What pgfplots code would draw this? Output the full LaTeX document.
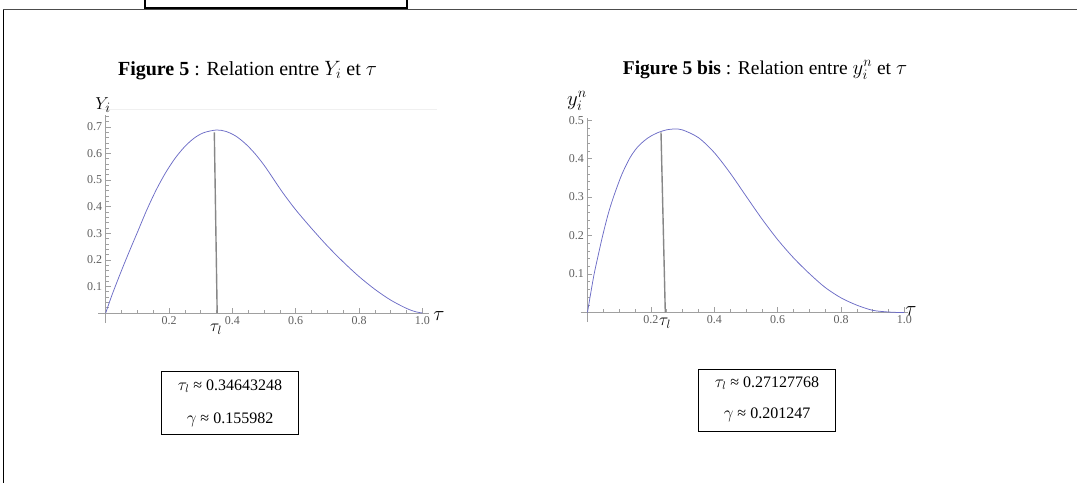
\documentclass[border=0pt]{standalone}
\usepackage{pgfplots}
\pgfplotsset{compat=1.18}
\usepackage{fontspec}
\setmainfont{Liberation Serif}
\definecolor{curve}{RGB}{108,108,198}
\definecolor{vline}{RGB}{135,135,135}
\definecolor{axgray}{RGB}{160,160,160}
\definecolor{ticklab}{RGB}{95,95,95}

\pgfplotsset{
  mmastyle/.style={
    scale only axis,
    anchor=south west,
    axis lines=middle,
    axis line style={draw=axgray, line width=0.7pt, -},
    tick style={draw=axgray, line width=0.5pt},
    tick align=inside,
    major tick length=5pt,
    minor tick length=3pt,
    clip=false,
    ticklabel style={font=\fontsize{12}{12}\selectfont, text=ticklab},
    xtick={0.2,0.4,0.6,0.8,1.0},
    xticklabels={0.2,0.4,0.6,0.8,1.0},
    minor xtick={0,0.05,...,1.0},
  }
}

\begin{document}
\begin{tikzpicture}[x=1pt,y=1pt]
% page frame
\draw[gray!60!black, line width=1.6pt] (3,473.3) -- (1077,473.3);
\draw[black, line width=1pt] (3,473.3) -- (3,0);
\draw[black, line width=1.2pt] (145,483) -- (145,475) -- (407,475) -- (407,483);
% faint line
\draw[gray!12, line width=0.8pt] (100,373.5) -- (437,373.5);

% ---------- left plot ----------
\begin{axis}[mmastyle,
  at={(98.1pt,159.9pt)}, width=330.6pt, height=208pt,
  xmin=-0.024, xmax=1.02, ymin=-0.038, ymax=0.744,
  ytick={0.1,0.2,0.3,0.4,0.5,0.6,0.7},
  yticklabels={0.1,0.2,0.3,0.4,0.5,0.6,0.7},
  minor ytick={0,0.02,...,0.74},
]
\addplot[curve, line width=0.75pt, smooth] coordinates {
(0,0) (0.02,0.068) (0.05,0.160) (0.08,0.247) (0.10,0.303) (0.13,0.388)
(0.16,0.464) (0.19,0.529) (0.22,0.583) (0.25,0.626) (0.28,0.658) (0.31,0.678)
(0.35,0.688) (0.38,0.6824) (0.41,0.6657) (0.44,0.6378) (0.47,0.601) (0.50,0.556)
(0.53,0.5035) (0.56,0.451) (0.60,0.388) (0.65,0.318) (0.70,0.252) (0.75,0.192)
(0.80,0.137) (0.85,0.089) (0.90,0.0485) (0.95,0.0172) (0.98,0.0043) (1.0,0)};
\addplot[vline, line width=1.4pt] coordinates {(0.343,0.679) (0.352,0)};
\end{axis}

% ---------- right plot ----------
\begin{axis}[mmastyle,
  at={(580.5pt,160.9pt)}, width=327.1pt, height=203.9pt,
  xmin=-0.022, xmax=1.01, ymin=-0.025, ymax=0.505,
  ytick={0.1,0.2,0.3,0.4,0.5},
  yticklabels={0.1,0.2,0.3,0.4,0.5},
  minor ytick={0,0.02,...,0.5},
]
\addplot[curve, line width=0.75pt, smooth] coordinates {
(0,0) (0.01,0.049) (0.021,0.10) (0.035,0.153) (0.048,0.20) (0.065,0.255)
(0.082,0.30) (0.108,0.358) (0.134,0.402) (0.157,0.429) (0.18,0.447) (0.20,0.4585)
(0.225,0.4685) (0.25,0.4748) (0.274,0.477) (0.30,0.4745) (0.35,0.4545) (0.40,0.4156)
(0.45,0.3626) (0.50,0.3029) (0.55,0.2437) (0.60,0.1894) (0.65,0.1421) (0.70,0.1012)
(0.75,0.065) (0.80,0.038) (0.85,0.019) (0.90,0.0056) (0.95,0.0012) (0.98,0.0001) (1.0,0)};
\addplot[vline, line width=1.4pt] coordinates {(0.232,0.468) (0.2455,0)};
\end{axis}

% labels
\node[font=\fontsize{19}{19}\selectfont] at (103,378) {$Y_i$};
\node[font=\fontsize{20}{20}\selectfont] at (577,382) {$y_i^n$};
\node[font=\fontsize{20}{20}\selectfont] at (439,167) {$\tau$};
\node[font=\fontsize{20}{20}\selectfont] at (911,172) {$\tau$};
\node[font=\fontsize{17}{17}\selectfont] at (216,154) {$\tau_l$};
\node[font=\fontsize{17}{17}\selectfont] at (665,159.5) {$\tau_l$};

% titles
\node[font=\fontsize{20}{22}\selectfont] at (247.5,412) {\textbf{Figure 5} : Relation entre $Y_i$ et $\tau$};
\node[font=\fontsize{19.5}{22}\selectfont] at (765,413) {\textbf{Figure 5 bis} : Relation entre $y_i^n$ et $\tau$};

% boxes
\draw[black, line width=0.8pt] (161.7,49) rectangle (298.3,111.3);
\node[font=\fontsize{16}{16}\selectfont] at (230,97) {$\tau_l$ ≈ 0.34643248};
\node[font=\fontsize{16}{16}\selectfont] at (230,63) {$\gamma$ ≈ 0.155982};
\draw[black, line width=0.8pt] (698.3,52) rectangle (835.7,114);
\node[font=\fontsize{16}{16}\selectfont] at (767,99.7) {$\tau_l$ ≈ 0.27127768};
\node[font=\fontsize{16}{16}\selectfont] at (767,68) {$\gamma$ ≈ 0.201247};

\pgfresetboundingbox
\path[use as bounding box] (0,0) rectangle (1077,483);
\end{tikzpicture}
\end{document}
